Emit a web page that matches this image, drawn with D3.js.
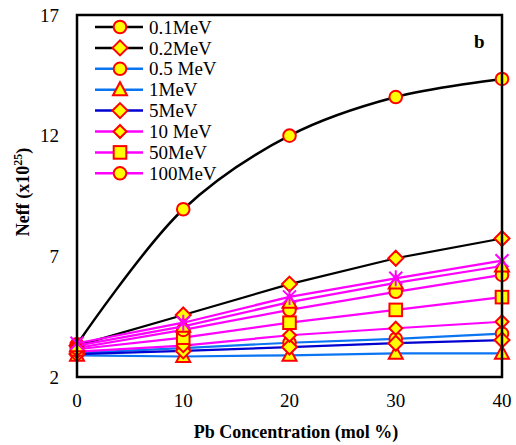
<!DOCTYPE html>
<html>
<head>
<meta charset="utf-8">
<script src="https://cdn.jsdelivr.net/npm/d3@7"></script>
<style>
  body { margin: 0; background: #fff; }
  text { font-family: "Liberation Serif", "Times New Roman", serif; }
</style>
</head>
<body>
<svg id="chart" width="516" height="445"></svg>
<script>
// Pb concentration (mol %)
const pbConc = [0, 10, 20, 30, 40];
const yTicks = [2, 7, 12, 17];

// Neff (x10^25) per photon energy
const neff01  = [3.35, 8.95, 12.0, 13.6, 14.35];
const neff02  = [3.3, 4.57, 5.85, 6.92, 7.74];
const neff05  = [3.0, 3.2, 3.42, 3.58, 3.8];
const neff1   = [2.9, 2.85, 2.9, 2.98, 2.98];
const neff5   = [2.95, 3.08, 3.24, 3.4, 3.53];
const neff10  = [3.05, 3.3, 3.73, 4.02, 4.29];
const neff50  = [3.15, 3.63, 4.25, 4.78, 5.31];
const neff100 = [3.2, 3.95, 4.78, 5.53, 6.23];
const neffTri = [3.3, 4.1, 5.1, 5.9, 6.6];
const neffStar = [3.4, 4.25, 5.32, 6.09, 6.82];

const series = [
  { label: "0.1MeV",  values: neff01,  color: "#000000", marker: "circle",   smooth: true },
  { label: "0.2MeV",  values: neff02,  color: "#000000", marker: "diamond" },
  { label: "0.5 MeV", values: neff05,  color: "#0A74F2", marker: "circle" },
  { label: "1MeV",    values: neff1,   color: "#0A74F2", marker: "triangle" },
  { label: "5MeV",    values: neff5,   color: "#0000D0", marker: "diamond" },
  { label: "10 MeV",  values: neff10,  color: "#FF00FF", marker: "diamond", small: true },
  { label: "50MeV",   values: neff50,  color: "#FF00FF", marker: "square" },
  { label: "100MeV",  values: neff100, color: "#FF00FF", marker: "circle" },
  { label: null,      values: neffTri, color: "#FF00FF", marker: "triangle" },
  { label: null,      values: neffStar, color: "#FF00FF", marker: "star" }
];

const width = 516, height = 445;
const margin = { top: 15, right: 14, bottom: 68, left: 77 };
const innerWidth = width - margin.left - margin.right;
const innerHeight = height - margin.top - margin.bottom;

const svg = d3.select("#chart");
const g = svg.append("g").attr("transform", `translate(${margin.left},${margin.top})`);

const xScale = d3.scaleLinear().domain([0, 40]).range([0, innerWidth]);
const yScale = d3.scaleLinear().domain([2, 17]).range([innerHeight, 0]);

/*******************/
/*  Markers        */
/*******************/
const drawMarker = (sel, type, color, small) => {
  const fill = "#FFFF00", stroke = "#FF0000";
  if (type === "circle") {
    sel.append("circle").attr("r", 6.3).attr("fill", fill).attr("stroke", stroke).attr("stroke-width", 2);
  } else if (type === "diamond") {
    const s = small ? 6.5 : 7.5;
    sel.append("path").attr("d", `M0,${-s}L${s},0L0,${s}L${-s},0Z`)
      .attr("fill", fill).attr("stroke", stroke).attr("stroke-width", 2);
  } else if (type === "square") {
    sel.append("rect").attr("x", -6.3).attr("y", -6.3).attr("width", 12.6).attr("height", 12.6)
      .attr("fill", fill).attr("stroke", stroke).attr("stroke-width", 2);
  } else if (type === "triangle") {
    sel.append("path").attr("d", "M0,-7.5L7,5.5L-7,5.5Z")
      .attr("fill", fill).attr("stroke", stroke).attr("stroke-width", 2);
  } else if (type === "star") {
    sel.append("path").attr("d", "M0,-8V8M-6.5,-6.5L6.5,6.5M6.5,-6.5L-6.5,6.5")
      .attr("stroke", color).attr("stroke-width", 2).attr("fill", "none");
  }
};

/*******************/
/*  Series         */
/*******************/
series.forEach(s => {
  const line = d3.line()
    .x((d, i) => xScale(pbConc[i]))
    .y(d => yScale(d))
    .curve(s.smooth ? d3.curveCatmullRom : d3.curveLinear);

  const sg = g.append("g");
  sg.append("path")
    .attr("d", line(s.values))
    .attr("fill", "none")
    .attr("stroke", s.color)
    .attr("stroke-width", s.smooth ? 2.5 : 2.2);

  sg.selectAll(".pt")
    .data(s.values)
    .join("g")
      .attr("class", "pt")
      .attr("transform", (d, i) => `translate(${xScale(pbConc[i])},${yScale(d)})`)
      .each(function() { drawMarker(d3.select(this), s.marker, s.color, s.small); });
});

/*******************/
/*  Frame & axes   */
/*******************/
g.append("rect")
  .attr("width", innerWidth).attr("height", innerHeight)
  .attr("fill", "none").attr("stroke", "#000").attr("stroke-width", 2.5);

g.append("g").selectAll("text")
  .data(yTicks)
  .join("text")
    .attr("x", -18).attr("y", d => yScale(d)).attr("dy", "0.35em")
    .attr("text-anchor", "end").attr("font-size", 19)
    .text(d => d);

g.append("g").selectAll("text")
  .data(pbConc)
  .join("text")
    .attr("x", d => xScale(d)).attr("y", innerHeight + 30)
    .attr("text-anchor", "middle").attr("font-size", 19)
    .text(d => d);

svg.append("text")
  .attr("x", 296).attr("y", 438)
  .attr("text-anchor", "middle").attr("font-size", 18).attr("font-weight", "bold")
  .text("Pb Concentration (mol %)");

const yTitle = svg.append("text")
  .attr("transform", "translate(29,192) rotate(-90)")
  .attr("text-anchor", "middle").attr("font-size", 18).attr("font-weight", "bold");
yTitle.append("tspan").text("Neff (x10");
yTitle.append("tspan").attr("font-size", 12).attr("dy", -7).text("25");
yTitle.append("tspan").attr("dy", 7).text(")");

svg.append("text")
  .attr("x", 474).attr("y", 48)
  .attr("font-size", 19).attr("font-weight", "bold")
  .text("b");

/*******************/
/*  Legend         */
/*******************/
const legend = svg.append("g").attr("transform", "translate(95,27)");
series.filter(s => s.label).forEach((s, i) => {
  const row = legend.append("g").attr("transform", `translate(0,${i * 20.9})`);
  row.append("line").attr("x1", 0).attr("x2", 48)
    .attr("stroke", s.color).attr("stroke-width", 2.5);
  const m = row.append("g").attr("transform", "translate(25,0)");
  drawMarker(m, s.marker, s.color, s.small);
  row.append("text").attr("x", 54).attr("dy", "0.35em")
    .attr("font-size", 19).text(s.label);
});
</script>
</body>
</html>
